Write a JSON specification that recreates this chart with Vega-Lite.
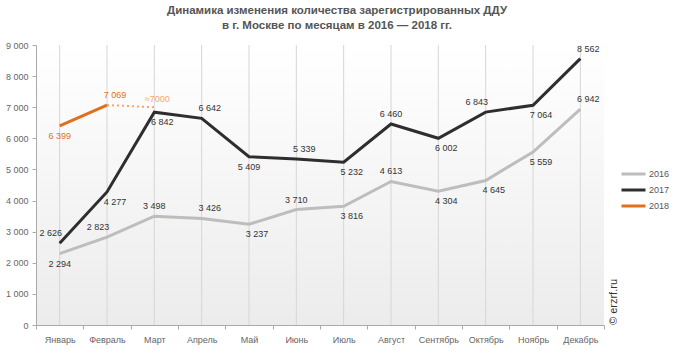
{
  "$schema": "https://vega.github.io/schema/vega-lite/v6.json",
  "width": 568,
  "height": 280,
  "autosize": "none",
  "padding": {"left": 36, "top": 45, "right": 77, "bottom": 36},
  "background": "#ffffff",
  "title": {
    "text": ["Динамика изменения количества зарегистрированных ДДУ", "в г. Москве по месяцам в 2016 — 2018 гг."],
    "font": "Liberation Sans",
    "fontSize": 11.5,
    "fontWeight": "bold",
    "color": "#555555",
    "anchor": "middle",
    "dx": 17,
    "lineHeight": 15,
    "offset": 10
  },
  "datasets": {
    "main": [
      {"month": "Январь", "year": "2016", "value": 2294},
      {"month": "Февраль", "year": "2016", "value": 2823},
      {"month": "Март", "year": "2016", "value": 3498},
      {"month": "Апрель", "year": "2016", "value": 3426},
      {"month": "Май", "year": "2016", "value": 3237},
      {"month": "Июнь", "year": "2016", "value": 3710},
      {"month": "Июль", "year": "2016", "value": 3816},
      {"month": "Август", "year": "2016", "value": 4613},
      {"month": "Сентябрь", "year": "2016", "value": 4304},
      {"month": "Октябрь", "year": "2016", "value": 4645},
      {"month": "Ноябрь", "year": "2016", "value": 5559},
      {"month": "Декабрь", "year": "2016", "value": 6942},
      {"month": "Январь", "year": "2017", "value": 2626},
      {"month": "Февраль", "year": "2017", "value": 4277},
      {"month": "Март", "year": "2017", "value": 6842},
      {"month": "Апрель", "year": "2017", "value": 6642},
      {"month": "Май", "year": "2017", "value": 5409},
      {"month": "Июнь", "year": "2017", "value": 5339},
      {"month": "Июль", "year": "2017", "value": 5232},
      {"month": "Август", "year": "2017", "value": 6460},
      {"month": "Сентябрь", "year": "2017", "value": 6002},
      {"month": "Октябрь", "year": "2017", "value": 6843},
      {"month": "Ноябрь", "year": "2017", "value": 7064},
      {"month": "Декабрь", "year": "2017", "value": 8562},
      {"month": "Январь", "year": "2018", "value": 6399},
      {"month": "Февраль", "year": "2018", "value": 7069}
    ],
    "forecast": [
      {"month": "Февраль", "value": 7069, "label": ""},
      {"month": "Март", "value": 7000, "label": "≈7000"}
    ],
    "credit": [
      {"month": "Декабрь", "value": 0, "label": "© erzrf.ru"}
    ]
  },
  "encoding": {
    "x": {
      "field": "month",
      "type": "ordinal",
      "sort": ["Январь", "Февраль", "Март", "Апрель", "Май", "Июнь", "Июль", "Август", "Сентябрь", "Октябрь", "Ноябрь", "Декабрь"],
      "scale": {"type": "band", "paddingInner": 0, "paddingOuter": 0},
      "axis": {
        "title": null,
        "labelAngle": 0,
        "labelFont": "Liberation Sans",
        "labelFontSize": 9,
        "labelColor": "#666666",
        "labelPadding": 6,
        "tickBand": "extent",
        "tickSize": 4,
        "tickColor": "#aaaaaa",
        "domainColor": "#aaaaaa",
        "grid": false
      }
    },
    "y": {
      "field": "value",
      "type": "quantitative",
      "scale": {"domain": [0, 9000], "nice": false},
      "axis": {
        "title": null,
        "values": [0, 1000, 2000, 3000, 4000, 5000, 6000, 7000, 8000, 9000],
        "format": ",d",
        "labelFont": "Liberation Sans",
        "labelFontSize": 9,
        "labelColor": "#666666",
        "labelPadding": 4,
        "tickSize": 4,
        "tickColor": "#aaaaaa",
        "domainColor": "#aaaaaa",
        "grid": false
      }
    }
  },
  "layer": [
    {
      "data": {"name": "main"},
      "transform": [{"filter": "datum.year == '2016'"}],
      "mark": {"type": "rule", "color": "#d6d6d6", "strokeWidth": 1},
      "encoding": {"y": null}
    },
    {
      "data": {"name": "forecast"},
      "mark": {"type": "line", "color": "#f2a86e", "strokeWidth": 2, "strokeDash": [2, 3]}
    },
    {
      "data": {"name": "main"},
      "mark": {"type": "line", "strokeWidth": 3, "strokeJoin": "miter"},
      "encoding": {
        "color": {
          "field": "year",
          "type": "nominal",
          "scale": {"domain": ["2016", "2017", "2018"], "range": ["#bdbdbd", "#2e2e2e", "#e0701e"]},
          "legend": {
            "title": null,
            "orient": "none",
            "legendX": 584,
            "legendY": 121,
            "symbolType": "stroke",
            "symbolSize": 576,
            "symbolStrokeWidth": 3,
            "clipHeight": 16,
            "labelFont": "Liberation Sans",
            "labelFontSize": 9,
            "labelColor": "#555555",
            "labelOffset": 2,
            "rowPadding": 0
          }
        }
      }
    },
    {
      "data": {"name": "main"},
      "transform": [{"filter": "indexof(['2016-Март','2016-Июнь','2016-Август','2017-Август'], datum.year + '-' + datum.month) >= 0"}],
      "mark": {"type": "text", "dy": -10, "font": "Liberation Sans", "fontSize": 9, "baseline": "middle", "color": "#333333"},
      "encoding": {"text": {"field": "value", "type": "quantitative", "format": ",d"}}
    },
    {
      "data": {"name": "main"},
      "transform": [{"filter": "indexof(['2016-Апрель','2016-Декабрь','2017-Апрель','2017-Июнь','2017-Декабрь'], datum.year + '-' + datum.month) >= 0"}],
      "mark": {"type": "text", "dy": -10, "dx": 8, "font": "Liberation Sans", "fontSize": 9, "baseline": "middle", "color": "#333333"},
      "encoding": {"text": {"field": "value", "type": "quantitative", "format": ",d"}}
    },
    {
      "data": {"name": "main"},
      "transform": [{"filter": "indexof(['2016-Февраль','2017-Январь','2017-Октябрь'], datum.year + '-' + datum.month) >= 0"}],
      "mark": {"type": "text", "dy": -10, "dx": -9, "font": "Liberation Sans", "fontSize": 9, "baseline": "middle", "color": "#333333"},
      "encoding": {"text": {"field": "value", "type": "quantitative", "format": ",d"}}
    },
    {
      "data": {"name": "main"},
      "transform": [{"filter": "indexof(['2016-Январь','2017-Май'], datum.year + '-' + datum.month) >= 0"}],
      "mark": {"type": "text", "dy": 10, "font": "Liberation Sans", "fontSize": 9, "baseline": "middle", "color": "#333333"},
      "encoding": {"text": {"field": "value", "type": "quantitative", "format": ",d"}}
    },
    {
      "data": {"name": "main"},
      "transform": [{"filter": "indexof(['2016-Май','2016-Июль','2016-Сентябрь','2016-Октябрь','2016-Ноябрь','2017-Февраль','2017-Март','2017-Июль','2017-Сентябрь','2017-Ноябрь'], datum.year + '-' + datum.month) >= 0"}],
      "mark": {"type": "text", "dy": 10, "dx": 8, "font": "Liberation Sans", "fontSize": 9, "baseline": "middle", "color": "#333333"},
      "encoding": {"text": {"field": "value", "type": "quantitative", "format": ",d"}}
    },
    {
      "data": {"name": "main"},
      "transform": [{"filter": "datum.year == '2018' && datum.month == 'Январь'"}],
      "mark": {"type": "text", "dy": 10, "font": "Liberation Sans", "fontSize": 9, "baseline": "middle", "color": "#e0701e"},
      "encoding": {"text": {"field": "value", "type": "quantitative", "format": ",d"}}
    },
    {
      "data": {"name": "main"},
      "transform": [{"filter": "datum.year == '2018' && datum.month == 'Февраль'"}],
      "mark": {"type": "text", "dy": -10, "dx": 8, "font": "Liberation Sans", "fontSize": 9, "baseline": "middle", "color": "#e0701e"},
      "encoding": {"text": {"field": "value", "type": "quantitative", "format": ",d"}}
    },
    {
      "data": {"name": "forecast"},
      "mark": {"type": "text", "dy": -8, "dx": 3, "font": "Liberation Sans", "fontSize": 9, "baseline": "middle", "color": "#f2a86e"},
      "encoding": {"text": {"field": "label"}}
    },
    {
      "data": {"name": "credit"},
      "mark": {"type": "text", "angle": 270, "align": "left", "baseline": "middle", "dy": 34, "font": "Liberation Sans", "fontSize": 11, "color": "#333333"},
      "encoding": {"text": {"field": "label"}}
    }
  ],
  "config": {
    "locale": {"number": {"decimal": ",", "thousands": " ", "grouping": [3], "currency": ["", ""]}},
    "view": {
      "stroke": null,
      "fill": {"gradient": "linear", "x1": 0, "y1": 0, "x2": 0, "y2": 1, "stops": [{"offset": 0, "color": "#ffffff"}, {"offset": 1, "color": "#ececec"}]}
    }
  }
}
